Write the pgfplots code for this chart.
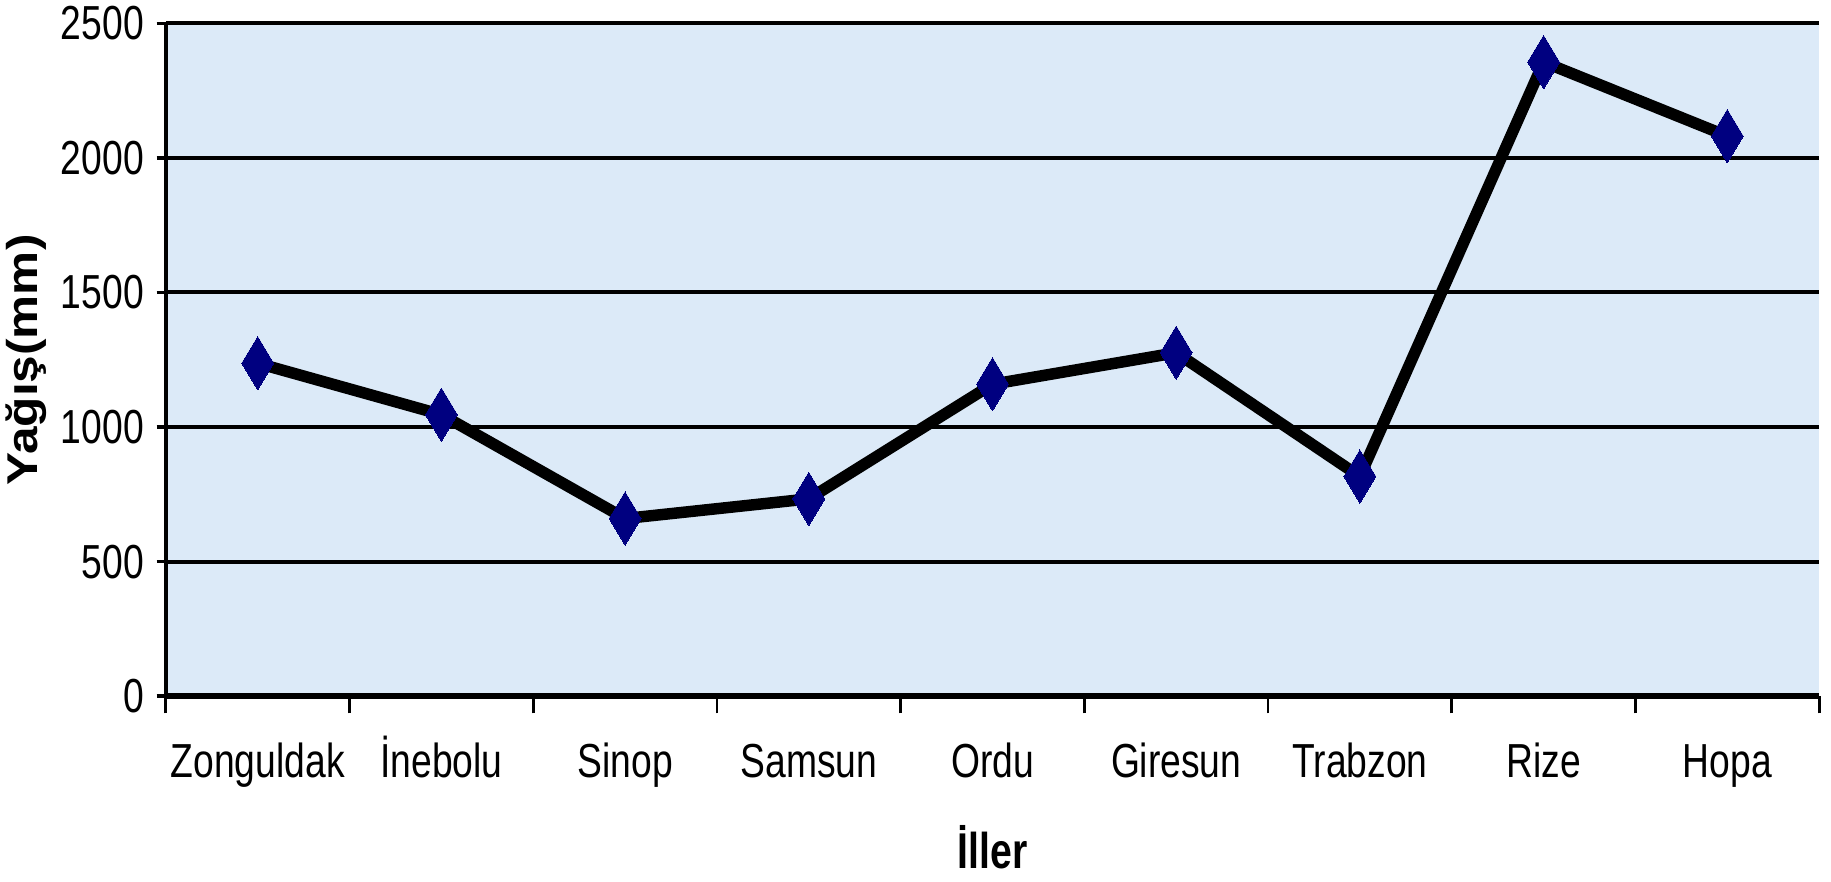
\documentclass[border=0pt]{standalone}
\usepackage{fontspec}
\setmainfont{Liberation Sans}[FakeStretch=0.78]
\newfontfamily\ylabfont{Liberation Sans}
\usepackage{pgfplots}
\pgfplotsset{compat=1.18}
\definecolor{bgblue}{RGB}{220,234,248}
\definecolor{marknavy}{RGB}{0,0,128}

\begin{document}
\begin{tikzpicture}
  \path[use as bounding box] (-46.2pt,-51.5pt) rectangle (463.8pt,193.9pt);
  \begin{axis}[
    scale only axis,
    width=460.5pt, height=187.4pt,
    at={(0,0)}, anchor=south west,
    xmin=0.5, xmax=9.5,
    ymin=0, ymax=2500,
    ytick={0,500,...,2500},
    xtick={1,...,9},
    xticklabels={Zonguldak,İnebolu,Sinop,Samsun,Ordu,Giresun,Trabzon,Rize,Hopa},
    minor xtick={0.5,1.5,...,9.5},
    axis x line*=bottom, axis y line*=left,
    x axis line style={line width=1.5pt,-},
    y axis line style={line width=1pt,-},
    tick align=outside,
    major tick length=2.6pt, minor tick length=4.8pt,
    x tick style={draw=none},
    minor x tick style={draw=black,line width=0.8pt},
    y tick style={black,line width=1pt},
    ymajorgrids,
    major grid style={black,line width=1.1pt},
    axis background/.style={fill=bgblue},
    /pgf/number format/assume math mode=true,
    /pgf/number format/1000 sep={},
    yticklabel style={font=\fontsize{13.3}{15}\selectfont, anchor=east},
    xticklabel style={font=\fontsize{13.3}{15}\selectfont, anchor=base, yshift=-20pt},
    xlabel={\bfseries İller},
    xlabel style={font=\fontsize{14}{16}\selectfont, at={(axis description cs:0.5,0)}, anchor=center, yshift=-42pt},
    ylabel={\scalebox{1.15}[1]{\ylabfont\bfseries Yağış(mm)}},
    ylabel style={font=\fontsize{12}{14}\selectfont, at={(axis description cs:-0.0847,0.5)}, anchor=center},
    clip=false,
  ]
    \addplot[black, line width=3.2pt,
      mark=diamond*, mark size=7.4pt,
      mark options={fill=marknavy, draw=marknavy, line width=0pt, xscale=0.8}]
      coordinates {
      (1,1237) (2,1046) (3,660) (4,733) (5,1159)
      (6,1276) (7,816) (8,2356) (9,2081)
    };
  \end{axis}
\end{tikzpicture}
\end{document}
